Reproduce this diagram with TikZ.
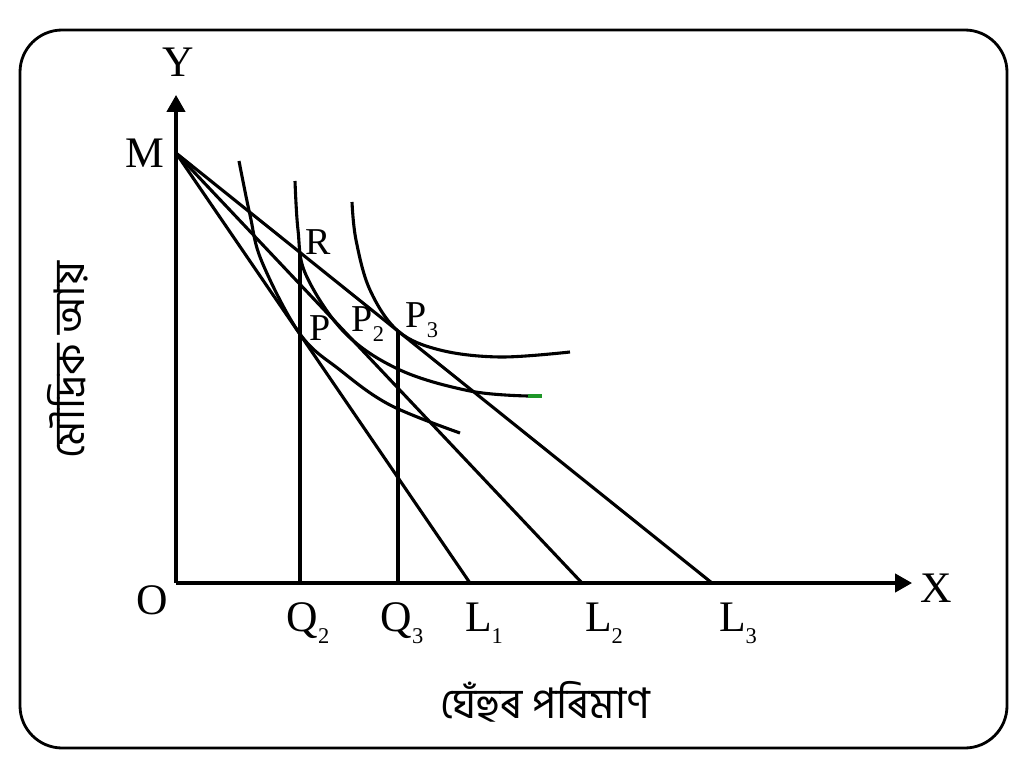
\documentclass[tikz,border=0pt]{standalone}
\usepackage{fontspec}
\setmainfont{Liberation Serif}
\newfontfamily\bnfont[Script=Bengali]{Hind Siliguri}
\usetikzlibrary{arrows.meta}
\definecolor{tipgreen}{RGB}{30,150,40}
\newcommand{\sbs}[1]{\raisebox{-0.6ex}{\fontsize{16}{18}\selectfont #1}}
\begin{document}
\begin{tikzpicture}[x=0.025cm,y=-0.025cm,
  ln/.style={line width=2.2pt,black},
  axis/.style={line width=2.2pt,-{Triangle[length=12pt,width=13pt]}},
  lbl/.style={font=\fontsize{31}{33}\selectfont,inner sep=0pt},
  sml/.style={font=\fontsize{27}{29}\selectfont,inner sep=0pt},
  bn/.style={font=\bnfont\fontsize{30}{34}\selectfont,inner sep=0pt}]
\useasboundingbox (0,0) rectangle (1024,767);
\draw[line width=2pt,rounded corners=30pt] (20,30) rectangle (1007,748);
% points
\coordinate (O) at (176,583);
\coordinate (Ytip) at (176,95);
\coordinate (Xtip) at (912,583);
\coordinate (Mp) at (176,153);
\coordinate (L1) at (470,583);
\coordinate (L2) at (582,583);
\coordinate (L3) at (712,583);
\coordinate (Q2) at (300,583);
\coordinate (Q3) at (398,583);
\coordinate (R) at (300,252);
\coordinate (P3) at (398,331);
\coordinate (G1) at (528,396);
\coordinate (G2) at (542,396);
% axes
\draw[axis] (O) -- (Ytip);
\draw[axis] (O) -- (Xtip);
% budget lines
\draw[ln] (Mp) -- (L1);
\draw[ln] (Mp) -- (L2);
\draw[ln] (Mp) -- (L3);
% verticals
\draw[ln] (Q2) -- (R);
\draw[ln] (Q3) -- (P3);
% indifference curves
\draw[ln] plot[smooth,tension=0.6] coordinates {(239,161) (250,215) (262,262) (300,334) (340,370) (390,405) (460,433)};
\draw[ln] plot[smooth,tension=0.6] coordinates {(295,181) (298,230) (306,275) (345,333) (400,370) (470,391) (528,396)};
\draw[line width=2.2pt,tipgreen] (G1) -- (G2);
\draw[ln] plot[smooth,tension=0.6] coordinates {(352,202) (356,240) (370,290) (398,331) (440,350) (500,357) (570,352)};
% labels
\node[lbl] (lY) at (178,62) {Y};
\node[lbl] (lM) at (145,153) {M};
\node[lbl] (lO) at (152,600) {O};
\node[lbl] (lX) at (936,588) {X};
\node[sml] (lR) at (318,242) {R};
\node[sml] (lP) at (320,328) {P};
\node[sml] (lP2) at (368,324) {P\sbs{2}};
\node[sml] (lP3) at (422,320) {P\sbs{3}};
\node[lbl] (lQ2) at (308,623) {Q\sbs{2}};
\node[lbl] (lQ3) at (402,623) {Q\sbs{3}};
\node[lbl] (lL1) at (484,623) {L\sbs{1}};
\node[lbl] (lL2) at (604,623) {L\sbs{2}};
\node[lbl] (lL3) at (738,623) {L\sbs{3}};
\node[bn,rotate=90] (ylab) at (68,360) {মৌদ্ৰিক আয়};
\node[bn] (xlab) at (545,702) {ঘেঁহুৰ পৰিমাণ};
\end{tikzpicture}
\end{document}
